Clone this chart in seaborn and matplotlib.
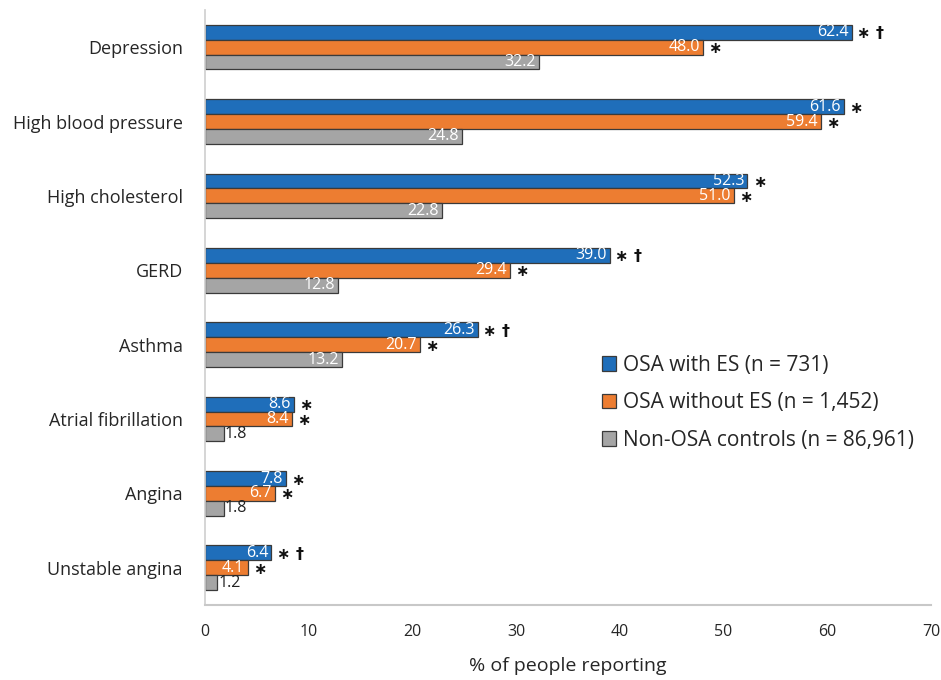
import matplotlib
matplotlib.use("Agg")
import matplotlib.pyplot as plt
import seaborn as sns
import pandas as pd
from matplotlib.patches import Patch

conditions = ["Depression", "High blood pressure", "High cholesterol", "GERD",
              "Asthma", "Atrial fibrillation", "Angina", "Unstable angina"]
groups = ["OSA with ES (n = 731)", "OSA without ES (n = 1,452)",
          "Non-OSA controls (n = 86,961)"]
with_es = [62.4, 61.6, 52.3, 39.0, 26.3, 8.6, 7.8, 6.4]
without_es = [48.0, 59.4, 51.0, 29.4, 20.7, 8.4, 6.7, 4.1]
controls = [32.2, 24.8, 22.8, 12.8, 13.2, 1.8, 1.8, 1.2]
marks_with_es = ["∗ †", "∗", "∗", "∗ †", "∗ †", "∗", "∗", "∗ †"]
marks_without_es = ["∗", "∗", "∗", "∗", "∗", "∗", "∗", "∗"]

colors = ["#1F6EBA", "#ED7D31", "#A5A5A5"]

rows = []
for series, vals in zip(groups, [with_es, without_es, controls]):
    for c, v in zip(conditions, vals):
        rows.append({"condition": c, "group": series, "value": v})
df = pd.DataFrame(rows)

sns.set_theme(style="white")
plt.rcParams["font.family"] = ["Open Sans", "DejaVu Sans"]

fig = plt.figure(figsize=(9.41, 6.8), dpi=100)
ax = fig.add_axes([0.2179, 0.1103, 0.7715, 0.875])

sns.barplot(data=df, y="condition", x="value", hue="group", order=conditions,
            hue_order=groups, palette=colors, orient="h", width=0.6,
            edgecolor="#3a3a3a", linewidth=0.9, saturation=1, legend=False, ax=ax)

ax.set_xlim(0, 70)
ax.set_xticks(range(0, 71, 10))
ax.set_ylim(len(conditions) - 0.5, -0.5)
ax.set_ylabel("")
ax.set_xlabel("% of people reporting", fontsize=14, labelpad=12)
ax.tick_params(axis="y", labelsize=13, length=0, pad=16)
ax.tick_params(axis="x", labelsize=11.5, length=0, pad=14)
for s in ["top", "right"]:
    ax.spines[s].set_visible(False)
ax.spines["left"].set_color("#d0d0d0")
ax.spines["bottom"].set_color("#c8c8c8")
ax.spines["bottom"].set_linewidth(1.5)

all_marks = [marks_with_es, marks_without_es, [""] * len(conditions)]
for container, marks in zip(ax.containers, all_marks):
    for bar, mark in zip(container, marks):
        w = bar.get_width()
        yc = bar.get_y() + bar.get_height() / 2
        if w > 3:
            ax.text(w - 0.3, yc, f"{w:.1f}", ha="right", va="center",
                    color="white", fontsize=11.5)
        else:
            ax.text(w + 0.1, yc, f"{w:.1f}", ha="left", va="center",
                    color="#222222", fontsize=11.5)
        if mark:
            ax.text(w + 0.5, yc + 0.02, mark, ha="left", va="center",
                    color="#111111", fontsize=11.5, fontweight="bold",
                    family=["DejaVu Sans"])

handles = [Patch(facecolor=c, edgecolor="#3a3a3a", linewidth=0.9) for c in colors]
ax.legend(handles, groups, loc="upper left", bbox_to_anchor=(0.535, 0.435),
          frameon=False, fontsize=15, handlelength=0.7, handleheight=0.7,
          handletextpad=0.3, labelspacing=0.8, borderaxespad=0)

fig.savefig("out.png", dpi=100)
